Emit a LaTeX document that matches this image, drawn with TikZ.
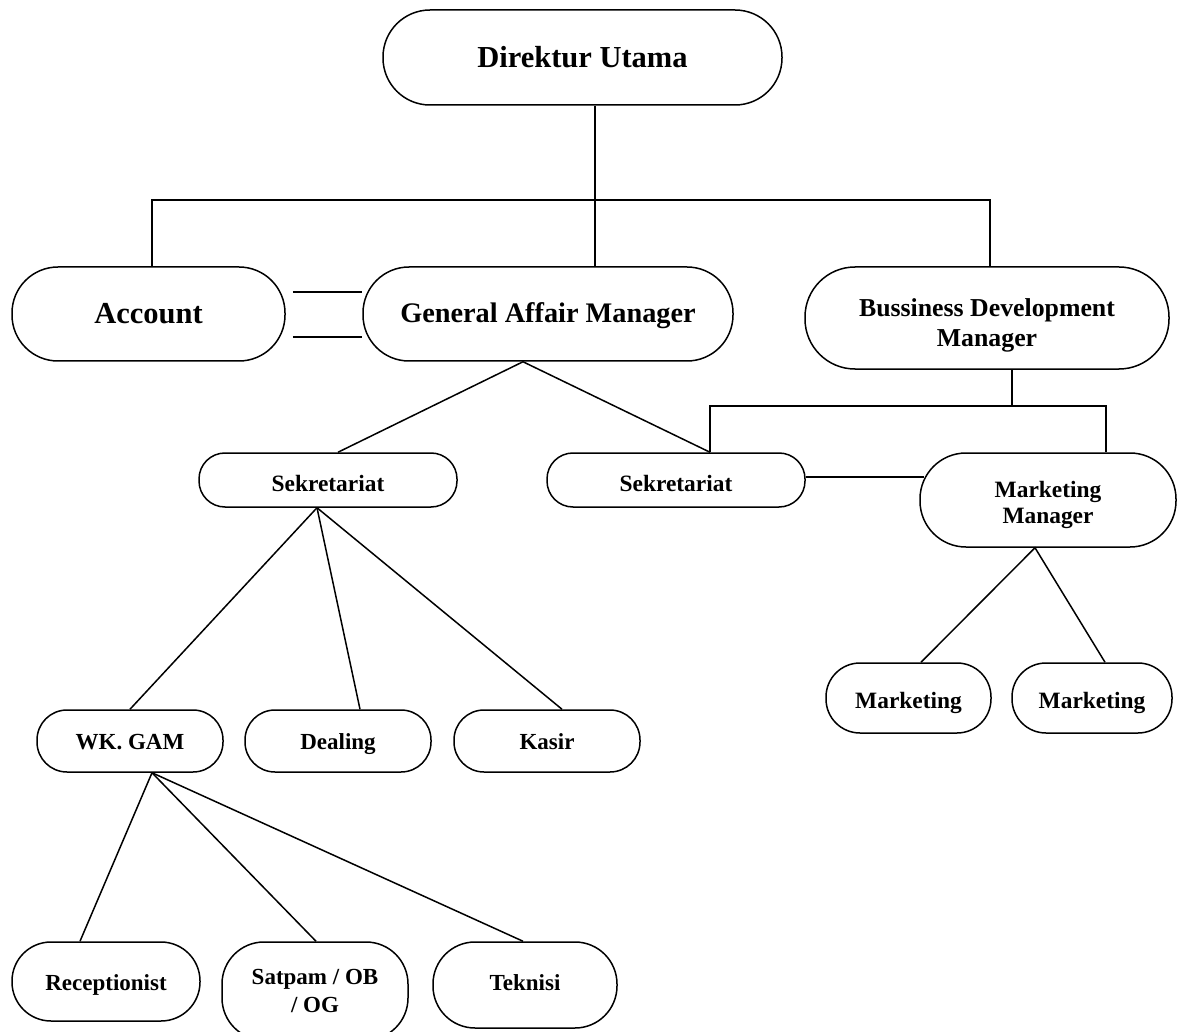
\documentclass[tikz,border=0pt]{standalone}
\usepackage{fontspec}
\setmainfont{Liberation Serif}
\begin{document}
\begin{tikzpicture}[x=1pt,y=-1pt,line width=1.5pt,
  box/.style={draw,line width=1.5pt,align=center,inner sep=0pt},
  fA/.style={font=\fontsize{30.5}{34}\selectfont\bfseries},
  fB/.style={font=\fontsize{28.3}{32}\selectfont\bfseries},
  fC/.style={font=\fontsize{25.8}{30}\selectfont\bfseries},
  fD/.style={font=\fontsize{23.4}{26.5}\selectfont\bfseries},
  fE/.style={font=\fontsize{23}{28.5}\selectfont\bfseries},
  tb/.style={text height=#1,text depth=0pt}]
\useasboundingbox (0,0) rectangle (1181,1032);
\clip (0,0) rectangle (1181,1032);
% nodes
\node[box,fA,minimum width=399pt,minimum height=95pt,rounded corners=47pt] (du) at (582.5,57.5) {Direktur Utama};
\node[box,fA,minimum width=273pt,minimum height=94pt,rounded corners=46pt] (acc) at (148.5,314) {Account};
\node[box,fB,tb=18pt,minimum width=370pt,minimum height=94pt,rounded corners=46pt] (gam) at (548,314) {General Affair Manager};
\node[box,fC,minimum width=364pt,minimum height=102pt,rounded corners=50pt,text height=64pt,text depth=6pt] (bdm) at (987,318) {Bussiness Development\\Manager};
\node[box,fD,tb=22pt,minimum width=258pt,minimum height=54pt,rounded corners=26pt] (sek1) at (328,480) {Sekretariat};
\node[box,fD,tb=22pt,minimum width=258pt,minimum height=54pt,rounded corners=26pt] (sek2) at (676,480) {Sekretariat};
\node[box,fD,minimum width=256pt,minimum height=94pt,rounded corners=46pt,text height=52pt,text depth=5pt] (mm) at (1048,500) {Marketing\\Manager};
\node[box,fD,tb=21pt,minimum width=165pt,minimum height=70pt,rounded corners=34pt] (mkt1) at (908.5,698) {Marketing};
\node[box,fD,tb=21pt,minimum width=160pt,minimum height=70pt,rounded corners=34pt] (mkt2) at (1092,698) {Marketing};
\node[box,fE,tb=16pt,minimum width=186pt,minimum height=62pt,rounded corners=30pt] (wk) at (130,741) {WK. GAM};
\node[box,fE,tb=16pt,minimum width=186pt,minimum height=62pt,rounded corners=30pt] (deal) at (338,741) {Dealing};
\node[box,fE,tb=16pt,minimum width=186pt,minimum height=62pt,rounded corners=30pt] (kasir) at (547,741) {Kasir};
\node[box,fE,tb=17pt,minimum width=188pt,minimum height=79pt,rounded corners=39pt] (rec) at (106,981.5) {Receptionist};
\node[box,fE,minimum width=186pt,minimum height=98pt,rounded corners=42pt] (sat) at (315,991) {Satpam / OB\\/ OG};
\node[box,fE,tb=11pt,minimum width=184pt,minimum height=86pt,rounded corners=42pt] (tek) at (525,985) {Teknisi};
% connectors
\coordinate (jl) at (152,200);
\coordinate (jr) at (990,200);
\draw ([xshift=12.5pt]du.south) -- ([xshift=47pt]gam.north);
\draw ([xshift=3.5pt]acc.north) -- (jl) -- (jr) -- ([xshift=3pt]bdm.north);
\draw ([xshift=7pt,yshift=22pt]acc.east) -- ([yshift=22pt]gam.west);
\draw ([xshift=7pt,yshift=-23pt]acc.east) -- ([yshift=-23pt]gam.west);
\coordinate (gamb) at ([xshift=-25pt]gam.south);
\draw ([xshift=10pt]sek1.north) -- (gamb) -- ([xshift=34pt]sek2.north);
\coordinate (bj) at (1012,406);
\draw ([xshift=25pt]bdm.south) -- (bj);
\draw ([xshift=34pt]sek2.north) |- (bj) -| ([xshift=58pt]mm.north);
\draw ([yshift=3pt]sek2.east) -- ([xshift=5pt,yshift=23pt]mm.west);
\coordinate (mmb) at ([xshift=-13pt]mm.south);
\draw ([xshift=12.5pt]mkt1.north) -- (mmb) -- ([xshift=13pt]mkt2.north);
\coordinate (sb) at ([xshift=-11pt]sek1.south);
\draw (sb) -- (wk.north);
\draw (sb) -- ([xshift=22pt]deal.north);
\draw (sb) -- ([xshift=15pt]kasir.north);
\coordinate (wb) at ([xshift=22pt]wk.south);
\draw (wb) -- ([xshift=-26pt]rec.north);
\draw (wb) -- ([xshift=1pt]sat.north);
\draw (wb) -- ([xshift=-2pt]tek.north);
\end{tikzpicture}
\end{document}
